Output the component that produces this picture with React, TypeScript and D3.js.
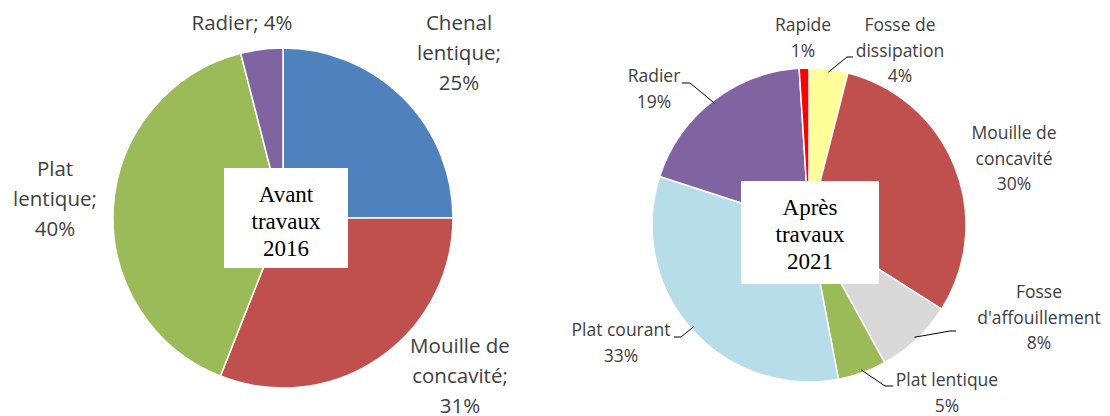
import React from "react";
import * as d3 from "d3";

// Avant travaux 2016
const beforeCategories = ["Chenal lentique", "Mouille de concavité", "Plat lentique", "Radier"];
const beforeValues = [25, 31, 40, 4];
const beforeColors = ["#4F81BD", "#C0504D", "#9BBB59", "#8064A2"];
const beforeLabelLines = [
  ["Chenal", "lentique;", "25%"],
  ["Mouille de", "concavité;", "31%"],
  ["Plat", "lentique;", "40%"],
  ["Radier; 4%"],
];

// Après travaux 2021
const afterCategories = [
  "Fosse de dissipation",
  "Mouille de concavité",
  "Fosse d'affouillement",
  "Plat lentique",
  "Plat courant",
  "Radier",
  "Rapide",
];
const afterValues = [4, 30, 8, 5, 33, 19, 1];
const afterColors = ["#FFFF99", "#C0504D", "#D9D9D9", "#9BBB59", "#B7DDE8", "#8064A2", "#FF0000"];
const afterLabelLines = [
  ["Fosse de", "dissipation", "4%"],
  ["Mouille de", "concavité", "30%"],
  ["Fosse", "d'affouillement", "8%"],
  ["Plat lentique", "5%"],
  ["Plat courant", "33%"],
  ["Radier", "19%"],
  ["Rapide", "1%"],
];

// label placement (center of first line), leader elbow + horizontal end
type Place = { x: number; y: number; elbow?: [number, number]; end?: number };
const beforePlaces: Place[] = [
  { x: 459, y: 23 },
  { x: 460, y: 346 },
  { x: 55, y: 169 },
  { x: 242, y: 23 },
];
const afterPlaces: Place[] = [
  { x: 900, y: 25, elbow: [847, 57], end: 853 },
  { x: 1014, y: 133 },
  { x: 1039, y: 292, elbow: [950, 331], end: 956 },
  { x: 947, y: 380, elbow: [885, 386], end: 893 },
  { x: 621, y: 330, elbow: [681, 337], end: 674 },
  { x: 654, y: 76, elbow: [690, 83], end: 682 },
  { x: 803, y: 25 },
];

const labelFont = "'Open Sans', sans-serif";

function Pie(props: {
  cx: number;
  cy: number;
  r: number;
  values: number[];
  categories: string[];
  colors: string[];
  lines: string[][];
  places: Place[];
  fontSize: number;
  lineGap: number;
  title: string[];
  box: [number, number, number, number];
}) {
  const { cx, cy, r, values, categories, colors, lines, places, fontSize, lineGap, title, box } = props;
  const data = categories.map((c, i) => ({ c, v: values[i], i }));
  const arcs = d3
    .pie<{ c: string; v: number; i: number }>()
    .sort(null)
    .value((d) => d.v)(data);
  const arc = d3.arc<d3.PieArcDatum<any>>().innerRadius(0).outerRadius(r);
  const edge = d3.arc<d3.PieArcDatum<any>>().innerRadius(r - 3).outerRadius(r - 3);

  return (
    <g>
      <g transform={`translate(${cx},${cy})`}>
        {arcs.map((a) => (
          <path key={a.data.c} d={arc(a) || ""} fill={colors[a.data.i]} stroke="#fff" strokeWidth={1.5} />
        ))}
      </g>
      {arcs.map((a) => {
        const p = places[a.data.i];
        if (!p.elbow) return null;
        const [ex, ey] = edge.centroid(a);
        return (
          <path
            key={"l" + a.data.c}
            d={`M${cx + ex},${cy + ey}L${p.elbow[0]},${p.elbow[1]}L${p.end},${p.elbow[1]}`}
            fill="none"
            stroke="#000"
            strokeWidth={1}
          />
        );
      })}
      {arcs.map((a) => {
        const p = places[a.data.i];
        return (
          <text
            key={"t" + a.data.c}
            x={p.x}
            y={p.y}
            textAnchor="middle"
            fontFamily={labelFont}
            fontSize={fontSize}
            fill="#404040"
          >
            {lines[a.data.i].map((s, k) => (
              <tspan key={k} x={p.x} y={p.y + k * lineGap} dy="0.35em">
                {s}
              </tspan>
            ))}
          </text>
        );
      })}
      <rect x={box[0]} y={box[1]} width={box[2]} height={box[3]} fill="#fff" />
      <text
        x={box[0] + box[2] / 2}
        textAnchor="middle"
        fontFamily="'Liberation Serif', 'Times New Roman', serif"
        fontSize={23}
        fill="#000"
      >
        {title.map((s, k) => (
          <tspan key={k} x={box[0] + box[2] / 2} y={box[1] + 34 + k * 27}>
            {s}
          </tspan>
        ))}
      </text>
    </g>
  );
}

export default function App() {
  return (
    <svg
      width={1110}
      height={416}
      style={{ position: "absolute", left: 0, top: 0, background: "#fff" }}
    >
      <Pie
        cx={283}
        cy={218}
        r={170}
        values={beforeValues}
        categories={beforeCategories}
        colors={beforeColors}
        lines={beforeLabelLines}
        places={beforePlaces}
        fontSize={20.5}
        lineGap={30}
        title={["Avant", "travaux", "2016"]}
        box={[224, 168, 124, 100]}
      />
      <Pie
        cx={809}
        cy={225}
        r={157}
        values={afterValues}
        categories={afterCategories}
        colors={afterColors}
        lines={afterLabelLines}
        places={afterPlaces}
        fontSize={17.5}
        lineGap={25.5}
        title={["Après", "travaux", "2021"]}
        box={[741, 181, 138, 103]}
      />
    </svg>
  );
}
